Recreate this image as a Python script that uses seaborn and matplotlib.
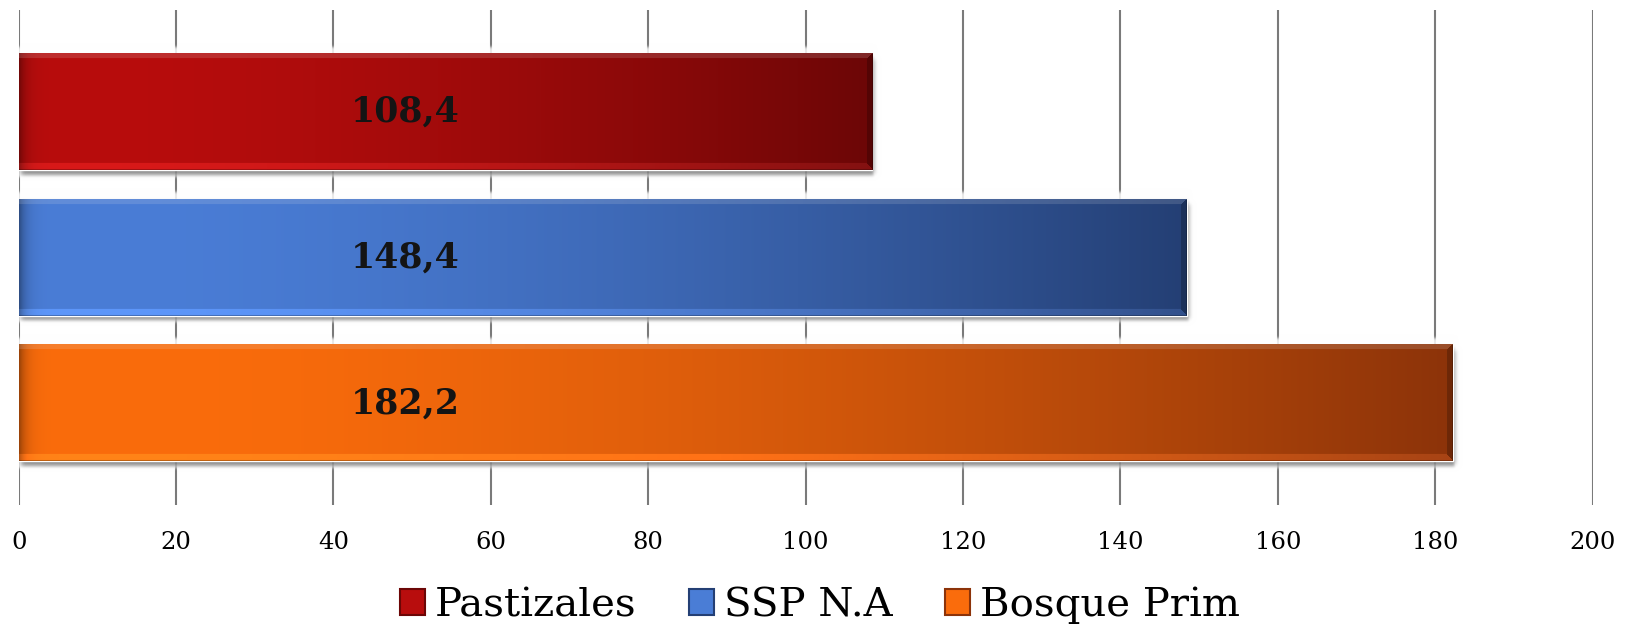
import numpy as np
import pandas as pd
import matplotlib
matplotlib.use("Agg")
import matplotlib.pyplot as plt
import seaborn as sns
from matplotlib.colors import to_rgb
from matplotlib.patches import Patch
from math import erf

# ---- data ----
categories = ["Pastizales", "SSP N.A", "Bosque Prim"]
values = [108.4, 148.4, 182.2]
value_labels = ["108,4", "148,4", "182,2"]
x_ticks = [0, 20, 40, 60, 80, 100, 120, 140, 160, 180, 200]

# gradient end colours per series (left / right)
light_cols = ["#B80D0D", "#4A7DD6", "#FA6C0C"]
dark_cols = ["#6C0606", "#243F74", "#8C3309"]

sns.set_theme(style="white")
plt.rcParams["font.family"] = ["DejaVu Serif"]
plt.rcParams["text.color"] = "black"

DPI = 100
fig = plt.figure(figsize=(16.25, 6.29), dpi=DPI)
ax = fig.add_axes([0.0115, 0.1971, 0.9686, 0.7870])

df = pd.DataFrame({"categoria": categories, "valor": values})
sns.barplot(data=df, x="valor", y="categoria", hue="categoria",
            palette=light_cols, saturation=1, width=0.8, orient="h",
            legend=False, ax=ax, zorder=3)

ax.set_xlim(0, 200)
ax.set_ylim(2.7, -0.7)
ax.set_xticks(x_ticks)
ax.set_xticklabels([str(t) for t in x_ticks])
ax.set_yticks([])
ax.set_xlabel("")
ax.set_ylabel("")
for s in ax.spines.values():
    s.set_visible(False)
ax.grid(axis="x", color="#7a7a7a", lw=1.5)
ax.grid(axis="y", visible=False)
ax.set_axisbelow(True)
ax.tick_params(axis="x", length=0, pad=19, labelsize=17.5, colors="black")

# pixel size of one data unit
ax_w_px = fig.get_figwidth() * DPI * 0.9686
ax_h_px = fig.get_figheight() * DPI * 0.7870
px_x = 200.0 / ax_w_px
px_y = 3.4 / ax_h_px

verf = np.vectorize(erf)


def soft_box(xs, ys, x0, x1, y0, y1, sig):
    fx = 0.5 * (verf((xs - x0) / sig) - verf((xs - x1) / sig))
    fy = 0.5 * (verf((ys - y0) / sig) - verf((ys - y1) / sig))
    return np.outer(fy, fx)


bars = sorted(ax.patches, key=lambda p: p.get_y())
for i, p in enumerate(bars):
    x0, y0 = p.get_x(), p.get_y()
    w, h = p.get_width(), p.get_height()
    W = max(int(round(w / px_x)), 10)
    H = max(int(round(h / px_y)), 10)

    # soft halo and drop shadow (pixel grid around the bar)
    m = 14
    xs = np.arange(-m, W + m) + 0.5
    ys = np.arange(-m, H + m) + 0.5
    halo = soft_box(xs, ys, -2, W + 2, -7, H + 7, 2.0)
    shadow = soft_box(xs, ys, 2, W + 4, 4, H + 5, 3.5)
    img = np.ones((len(ys), len(xs), 4))
    a = np.clip(np.maximum(halo * 0.85, shadow * 0.55), 0, 1)
    g = np.clip(1.0 - 0.55 * shadow, 0, 1)
    img[..., 0] = g
    img[..., 1] = g
    img[..., 2] = g
    img[..., 3] = a
    ax.imshow(img, extent=(x0 - m * px_x, x0 + (W + m) * px_x,
                           y0 + (H + m) * px_y, y0 - m * px_y),
              origin="upper", aspect="auto", interpolation="bilinear",
              zorder=2.5)

    # gradient fill with bevelled edges
    u = np.arange(W)[None, :].astype(float)
    v = np.arange(H)[:, None].astype(float)
    t = u / (W - 1)
    s = np.clip((t - 0.1) / 0.9, 0, 1) ** 1.5
    c0 = np.array(to_rgb(light_cols[i]))
    c1 = np.array(to_rgb(dark_cols[i]))
    col = c0[None, None, :] * (1 - s[..., None]) + c1[None, None, :] * s[..., None]
    col = np.broadcast_to(col, (H, W, 3)).copy()
    # darker left end
    left = 1 - 0.38 * np.exp(-u / 7.0)
    col *= np.broadcast_to(left, (H, W))[..., None]
    # bevel frame: top / bottom lighter, right darker
    dt = v / 5.0 + 0 * u
    db = (H - 1 - v) / 7.0 + 0 * u
    dr = (W - 1 - u) / 6.0 + 0 * v
    dmin = np.minimum(np.minimum(dt, db), dr)
    top = (dt == dmin) & (dmin < 1)
    bot = (db == dmin) & (dmin < 1) & ~top
    rgt = (dr == dmin) & (dmin < 1) & ~top & ~bot
    col[top] = col[top] * 0.85 + 0.15 * np.array([1, 1, 1]) * 0.9
    col[bot] = np.clip(col[bot] * 1.12 + 0.04, 0, 1)
    col[rgt] = col[rgt] * 0.78
    # thin dark outline at the lower and right edges
    col[-1, :, :] *= 0.75
    col[:, -1, :] *= 0.8
    ax.imshow(np.clip(col, 0, 1), extent=(x0, x0 + w, y0 + h, y0),
              origin="upper", aspect="auto", interpolation="bilinear",
              zorder=3.5)

    # value label
    ax.text(49.1, y0 + h / 2, value_labels[i], ha="center", va="center",
            fontsize=25, fontweight="bold", color="#141414", zorder=5)

ax.set_xlim(0, 200)
ax.set_ylim(2.7, -0.7)

handles = [Patch(facecolor=light_cols[i], edgecolor=dark_cols[i], lw=1.5,
                 label=categories[i]) for i in range(3)]
leg = fig.legend(handles=handles, loc="center", bbox_to_anchor=(0.5046, 0.037),
                 ncol=3, frameon=False, fontsize=29, handlelength=0.62,
                 handleheight=0.62, handletextpad=0.25, columnspacing=1.3,
                 borderaxespad=0, borderpad=0)
for txt in leg.get_texts():
    txt.set_color("black")

fig.savefig("out.png", dpi=DPI, facecolor="white")
